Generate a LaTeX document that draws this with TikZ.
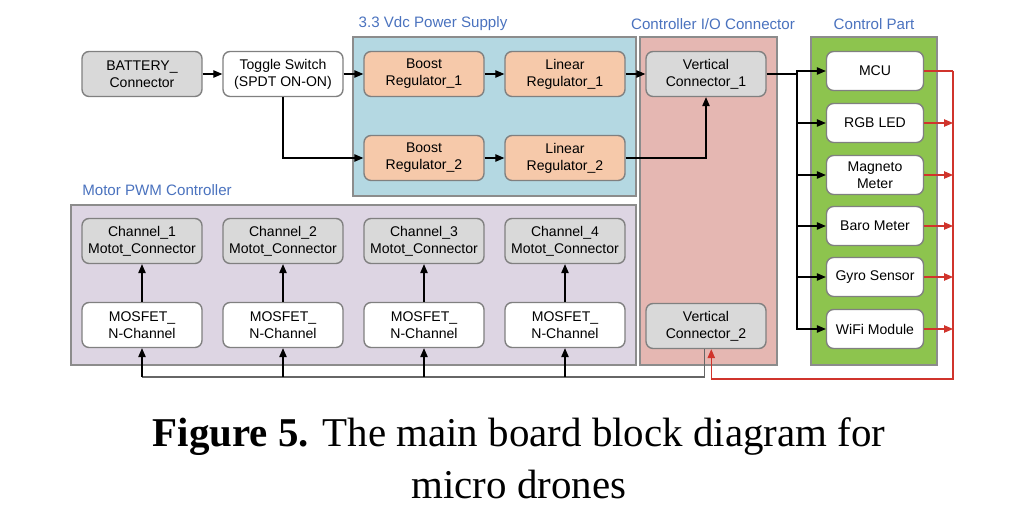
\documentclass[tikz,border=0pt]{standalone}
\usepackage{fontspec}
\setmainfont{Liberation Serif}
\setsansfont{Liberation Sans}
\usepackage{tikz}
\usetikzlibrary{arrows.meta,positioning,calc}
\definecolor{titleblue}{HTML}{4A72BE}
\definecolor{powerfill}{HTML}{B4D8E2}
\definecolor{iofill}{HTML}{E5B7B2}
\definecolor{ctrlfill}{HTML}{8DC44E}
\definecolor{motorfill}{HTML}{DDD5E3}
\definecolor{regfill}{HTML}{F6C9AA}
\definecolor{connfill}{HTML}{D9D9D9}
\definecolor{sigred}{HTML}{D0342C}

\begin{document}
\begin{tikzpicture}[x=0.02cm,y=-0.02cm,
    every node/.style={font=\sffamily\fontsize{8}{9.6}\selectfont},
    blk/.style={draw=black!50,line width=0.8pt,rounded corners=4pt,minimum width=2.4cm,minimum height=0.9cm,align=center,fill=white},
    conn/.style={blk,fill=connfill},
    reg/.style={blk,fill=regfill},
    part/.style={blk,minimum width=1.94cm,minimum height=0.78cm},
    group/.style={draw=black!45,line width=1pt},
    gtitle/.style={text=titleblue,font=\sffamily\fontsize{8.6}{10}\selectfont},
    arr/.style={-{Triangle[length=1.8mm,width=1.5mm]},line width=0.6pt},
    redarr/.style={-{Triangle[length=1.8mm,width=1.5mm]},line width=0.6pt,sigred}
]
\useasboundingbox (0,0) rectangle (1022,513);

% group frames
\fill[powerfill] (353,37) rectangle (636,196);
\draw[group] (353,37) rectangle (636,196);
\fill[iofill] (640,37) rectangle (777,365);
\draw[group] (640,37) rectangle (777,365);
\fill[ctrlfill] (811,37) rectangle (937,365);
\draw[group] (811,37) rectangle (937,365);
\fill[motorfill] (71,205) rectangle (636,365);
\draw[group] (71,205) rectangle (636,365);

\node[gtitle] (tpower) at (433,24) {3.3 Vdc Power Supply};
\node[gtitle] (tio) at (713,24) {Controller I/O Connector};
\node[gtitle] (tctrl) at (874,24) {Control Part};
\node[gtitle] (tmotor) at (157,190) {Motor PWM Controller};

% power path
\node[conn] (bat) at (142,74) {BATTERY\_\\Connector};
\node[blk] (tog) at (283,74) {Toggle Switch\\(SPDT ON-ON)};
\node[reg] (boost1) at (424,74) {Boost\\Regulator\_1};
\node[reg] (lin1) at (565,74) {Linear\\Regulator\_1};
\node[reg] (boost2) at (424,158) {Boost\\Regulator\_2};
\node[reg] (lin2) at (565,158) {Linear\\Regulator\_2};
\node[conn] (vc1) at (706,74) {Vertical\\Connector\_1};
\node[conn] (vc2) at (706,326) {Vertical\\Connector\_2};

% control part
\node[part] (mcu) at (875,71) {MCU};
\node[part] (rgb) at (875,123) {RGB LED};
\node[part] (mag) at (875,175) {Magneto\\Meter};
\node[part] (baro) at (875,226) {Baro Meter};
\node[part] (gyro) at (875,277) {Gyro Sensor};
\node[part] (wifi) at (875,329) {WiFi Module};

% motor channels
\foreach \i/\x in {1/142,2/283,3/424,4/565}{
  \node[conn] (ch\i) at (\x,241) {Channel\_\i\\Motot\_Connector};
  \node[blk] (mos\i) at (\x,325) {MOSFET\_\\N-Channel};
}

\coordinate (bus) at (797,74);
\coordinate (rbus) at (953,71);
\coordinate (rlow) at (953,379);
\coordinate (glow) at (706,377);

\draw[arr] (bat) -- (tog);
\draw[arr] (tog) -- (boost1);
\draw[arr] (tog.south) |- (boost2);
\draw[arr] (boost1) -- (lin1);
\draw[arr] (lin1) -- (vc1);
\draw[arr] (boost2) -- (lin2);
\draw[arr] (lin2) -| (vc1);

\draw[line width=0.6pt] (vc1) -- (bus);
\foreach \n in {mcu,rgb,mag,baro,gyro,wifi}
  \draw[arr] (bus) |- (\n);

\draw[sigred,line width=0.6pt] (mcu) -- (rbus);
\foreach \n in {rgb,mag,baro,gyro,wifi}
  \draw[redarr] (\n) -- (\n -| rbus);
\draw[redarr] (rbus) -- (rlow) -| ([xshift=3pt]vc2.south);

\draw[black!60,line width=0.6pt] ([xshift=-1pt]vc2.south) |- (mos1 |- glow);
\foreach \i in {1,...,4}{
  \draw[arr] (mos\i |- glow) -- (mos\i);
  \draw[arr] (mos\i) -- (ch\i);
}

\node[font=\rmfamily\fontsize{23.3}{29.5}\selectfont,align=center] (cap) at (519,458)
  {\textbf{Figure 5.} The main board block diagram for\\micro drones};
\end{tikzpicture}
\end{document}
